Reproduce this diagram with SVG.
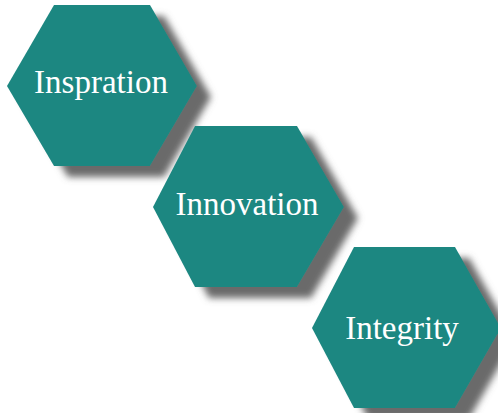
<svg xmlns="http://www.w3.org/2000/svg" width="498" height="413" viewBox="0 0 498 413">
<defs>
<filter id="sh" x="-20%" y="-20%" width="150%" height="150%">
<feGaussianBlur in="SourceAlpha" stdDeviation="3.5"/>
<feOffset dx="14" dy="11" result="b"/>
<feFlood flood-color="#6a6a6a" flood-opacity="1"/>
<feComposite in2="b" operator="in" result="s"/>
<feMerge><feMergeNode in="s"/><feMergeNode in="SourceGraphic"/></feMerge>
</filter>
<style>
.hex{fill:#1e8781;filter:url(#sh)}
.lbl{font-family:"Liberation Serif","Times New Roman",serif;font-size:33px;fill:#ffffff;text-anchor:middle}
</style>
</defs>
<rect width="498" height="413" fill="#ffffff"/>
<g id="connectors"/>
<g id="node-inspration">
<polygon class="hex" points="54,5 150,5 197,86 150,166 54,166 7,86"/>
<text class="lbl" x="101" y="93">Inspration</text>
</g>
<g id="node-innovation">
<polygon class="hex" points="195,126 297,126 344,207 297,287 195,287 153,207"/>
<text class="lbl" x="247" y="215">Innovation</text>
</g>
<g id="node-integrity">
<polygon class="hex" points="354,247 455,247 501,328 455,408 354,408 312,328"/>
<text class="lbl" x="402" y="339">Integrity</text>
</g>
</svg>
